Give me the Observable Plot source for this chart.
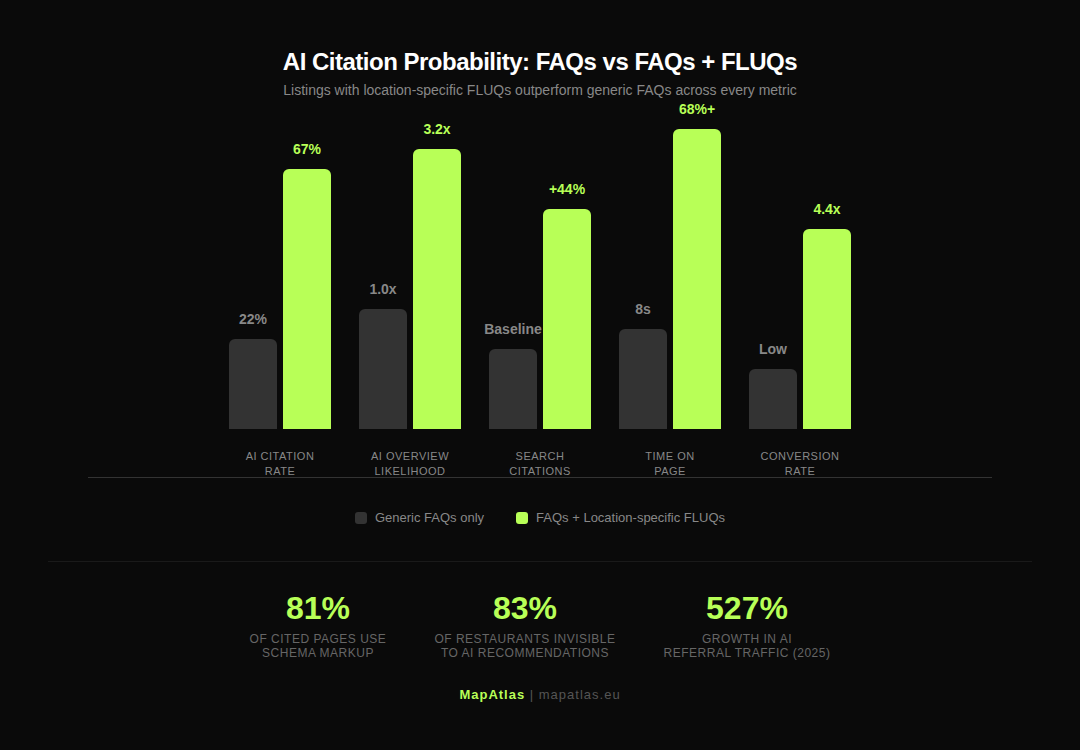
<!DOCTYPE html>
<html>
<head>
<meta charset="utf-8">
<script src="https://cdn.jsdelivr.net/npm/d3@7"></script>
<script src="https://cdn.jsdelivr.net/npm/@observablehq/plot@0.6"></script>
<style>
  html, body { margin: 0; padding: 0; background: #0a0a0a; }
  body { width: 1080px; height: 750px; position: relative; overflow: hidden; font-family: "Liberation Sans", Arial, sans-serif; }
  .abs { position: absolute; left: 0; width: 1080px; text-align: center; }
  #title { top: 46px; font-size: 24px; line-height: 32px; font-weight: 700; color: #fff; letter-spacing: -0.5px; }
  #subtitle { top: 81px; font-size: 14px; line-height: 18px; color: #888; }
  #chart { position: absolute; left: 88px; top: 100px; width: 904px; height: 377px; border-bottom: 1px solid #333; }
  #chart svg { display: block; overflow: visible; }
  #chart svg g[aria-label="fx-axis tick label"] { letter-spacing: 0.5px; }
  #legend { top: 510px; display: flex; justify-content: center; gap: 32px; font-size: 13px; line-height: 16px; color: #888; }
  #legend span.item { display: flex; align-items: center; gap: 8px; }
  #legend i { display: block; width: 12px; height: 12px; border-radius: 3px; }
  #divider { position: absolute; left: 48px; top: 561px; width: 984px; height: 1px; background: #1a1a1a; }
  #stats { top: 589px; display: flex; justify-content: center; gap: 48px; }
  .num { font-size: 32px; line-height: 38px; font-weight: 700; color: #b8ff57; }
  .lab { font-size: 12px; line-height: 14px; color: #666; letter-spacing: 0.5px; margin-top: 5px; }
  #footer { top: 687px; font-size: 13px; line-height: 16px; letter-spacing: 1px; color: #555; }
  #footer b { color: #b8ff57; }
</style>
</head>
<body>
<div id="title" class="abs"></div>
<div id="subtitle" class="abs"></div>
<div id="chart"></div>
<div id="legend" class="abs"></div>
<div id="divider"></div>
<div id="stats" class="abs"></div>
<div id="footer" class="abs"></div>
<script>
const titleText = "AI Citation Probability: FAQs vs FAQs + FLUQs";
const subtitleText = "Listings with location-specific FLUQs outperform generic FAQs across every metric";
const categories = ["AI CITATION\nRATE", "AI OVERVIEW\nLIKELIHOOD", "SEARCH\nCITATIONS", "TIME ON\nPAGE", "CONVERSION\nRATE"];
const seriesNames = ["Generic FAQs only", "FAQs + Location-specific FLUQs"];
const seriesColors = ["#333333", "#b8ff57"];
const labelColors = ["#888888", "#b8ff57"];
const genericValues = [90, 120, 80, 100, 60];
const fluqValues = [260, 280, 220, 300, 200];
const genericLabels = ["22%", "1.0x", "Baseline", "8s", "Low"];
const fluqLabels = ["67%", "3.2x", "+44%", "68%+", "4.4x"];
const statValues = ["81%", "83%", "527%"];
const statLabels = ["OF CITED PAGES USE\nSCHEMA MARKUP", "OF RESTAURANTS INVISIBLE\nTO AI RECOMMENDATIONS", "GROWTH IN AI\nREFERRAL TRAFFIC (2025)"];

const rows = categories.flatMap((category, i) => [
  {category, series: seriesNames[0], value: genericValues[i], label: genericLabels[i]},
  {category, series: seriesNames[1], value: fluqValues[i], label: fluqLabels[i]}
]);

const chart = Plot.plot({
  width: 904,
  height: 377,
  marginTop: 29,
  marginBottom: 48,
  marginLeft: 141,
  marginRight: 141,
  style: {background: "transparent", overflow: "visible", fontFamily: "'Liberation Sans', Arial, sans-serif"},
  fx: {domain: categories, paddingInner: 28 / 130, paddingOuter: 0, round: false, label: null},
  x: {domain: seriesNames, paddingInner: 6 / 54, paddingOuter: 0, round: false, axis: null},
  y: {domain: [0, 300], axis: null},
  color: {domain: seriesNames, range: seriesColors},
  marks: [
    Plot.barY(rows, {fx: "category", x: "series", y: "value", fill: "series", rx1y1: 6, rx2y1: 6}),
    Plot.text(rows, {
      fx: "category", x: "series", y: "value", text: "label", dy: -20, dx: -0.5,
      fill: d => labelColors[seriesNames.indexOf(d.series)],
      fontSize: 14, fontWeight: 700, lineAnchor: "middle"
    }),
    Plot.axisFx({
      anchor: "bottom", tickSize: 0, tickPadding: 20, dx: -0.5, label: null,
      fontSize: 11, lineHeight: 1.36, fill: "#888888", lineAnchor: "top"
    })
  ]
});
document.getElementById("chart").appendChild(chart);

document.getElementById("title").textContent = titleText;
document.getElementById("subtitle").textContent = subtitleText;

const legend = d3.select("#legend");
seriesNames.forEach((name, i) => {
  const item = legend.append("span").attr("class", "item");
  item.append("i").style("background", seriesColors[i]);
  item.append("span").text(name);
});

const stats = d3.select("#stats");
statValues.forEach((v, i) => {
  const s = stats.append("div");
  s.append("div").attr("class", "num").text(v);
  const lab = s.append("div").attr("class", "lab");
  statLabels[i].split("\n").forEach(t => lab.append("div").text(t));
});

const footer = d3.select("#footer");
footer.append("b").text("MapAtlas");
footer.append("span").text(" | mapatlas.eu");
</script>
</body>
</html>
